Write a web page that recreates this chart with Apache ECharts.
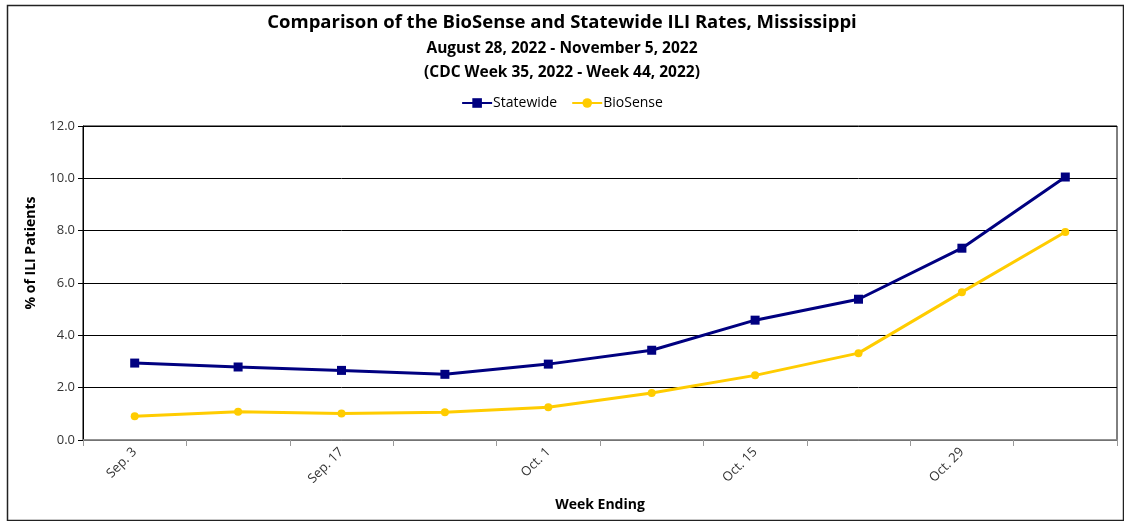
<!DOCTYPE html>
<html><head><meta charset="utf-8">
<script src="https://cdn.jsdelivr.net/npm/echarts@6/dist/echarts.min.js"></script>
<style>html,body{margin:0;padding:0;background:#fff}#c{width:1124px;height:521px}</style>
</head><body><div id="c"></div>
<script>
const categories = ['Sep. 3','Sep. 10','Sep. 17','Sep. 24','Oct. 1','Oct. 8','Oct. 15','Oct. 22','Oct. 29','Nov. 5'];
const statewide = [2.94, 2.79, 2.66, 2.51, 2.90, 3.43, 4.58, 5.38, 7.33, 10.05];
const biosense = [0.91, 1.08, 1.01, 1.06, 1.25, 1.80, 2.47, 3.32, 5.65, 7.95];
const yTicks = [0, 2, 4, 6, 8, 10, 12];
const F = '"Open Sans", "Noto Sans", sans-serif';
const chart = echarts.init(document.getElementById('c'));
chart.setOption({
  animation: false,
  graphic: [{type:'rect', left:5, top:3, shape:{width:1116, height:515}, style:{fill:'none', stroke:'#222', lineWidth:1.5}}],
  title: [
    {text:'Comparison of the BioSense and Statewide ILI Rates, Mississippi', left:'center', top:8, textStyle:{fontFamily:F, fontSize:18.5, fontWeight:'bold', color:'#000'}},
    {text:'August 28, 2022 - November 5, 2022', left:'center', top:36, textStyle:{fontFamily:F, fontSize:15.5, fontWeight:'bold', color:'#000'}},
    {text:'(CDC Week 35, 2022 - Week 44, 2022)', left:'center', top:60, textStyle:{fontFamily:F, fontSize:15.5, fontWeight:'bold', color:'#000'}}
  ],
  legend: {top:91, left:'center', itemWidth:30, itemHeight:12, itemGap:14, textStyle:{fontFamily:F, fontSize:14, color:'#000', padding:[0,0,0,-4]},
    data:['Statewide','BioSense']},
  grid: {left:83, right:7, top:126, bottom:81, show:true, borderColor:'#000', borderWidth:1},
  xAxis: {type:'category', data:categories, boundaryGap:true,
    name:'Week Ending', nameLocation:'middle', nameGap:58,
    nameTextStyle:{fontFamily:F, fontSize:14, fontWeight:'bold', color:'#000'},
    axisLine:{lineStyle:{color:'#999', width:1.5}},
    axisTick:{show:true, alignWithLabel:false, interval:0, length:6, lineStyle:{color:'#999'}},
    axisLabel:{interval:1, rotate:45, fontFamily:F, fontSize:13, color:'#333', margin:10}},
  yAxis: {type:'value', min:yTicks[0], max:yTicks[yTicks.length-1], interval:2,
    name:'% of ILI Patients', nameLocation:'middle', nameGap:45,
    nameTextStyle:{fontFamily:F, fontSize:14, fontWeight:'bold', color:'#000', padding:[0,0,0,60]},
    axisLine:{show:true, lineStyle:{color:'#000', width:1}},
    axisTick:{show:true, length:5, lineStyle:{color:'#000'}},
    axisLabel:{fontFamily:F, fontSize:13, color:'#333', formatter:v=>v.toFixed(1), margin:8},
    splitLine:{lineStyle:{color:'#000', width:1}}},
  series: [
    {name:'Statewide', type:'line', data:statewide, symbol:'rect', symbolSize:9, color:'#000080',
      lineStyle:{width:3, color:'#000080'}, itemStyle:{color:'#000080'}},
    {name:'BioSense', type:'line', data:biosense, symbol:'circle', symbolSize:8, color:'#FFCC00',
      lineStyle:{width:3, color:'#FFCC00'}, itemStyle:{color:'#FFCC00'}}
  ]
});
</script></body></html>
